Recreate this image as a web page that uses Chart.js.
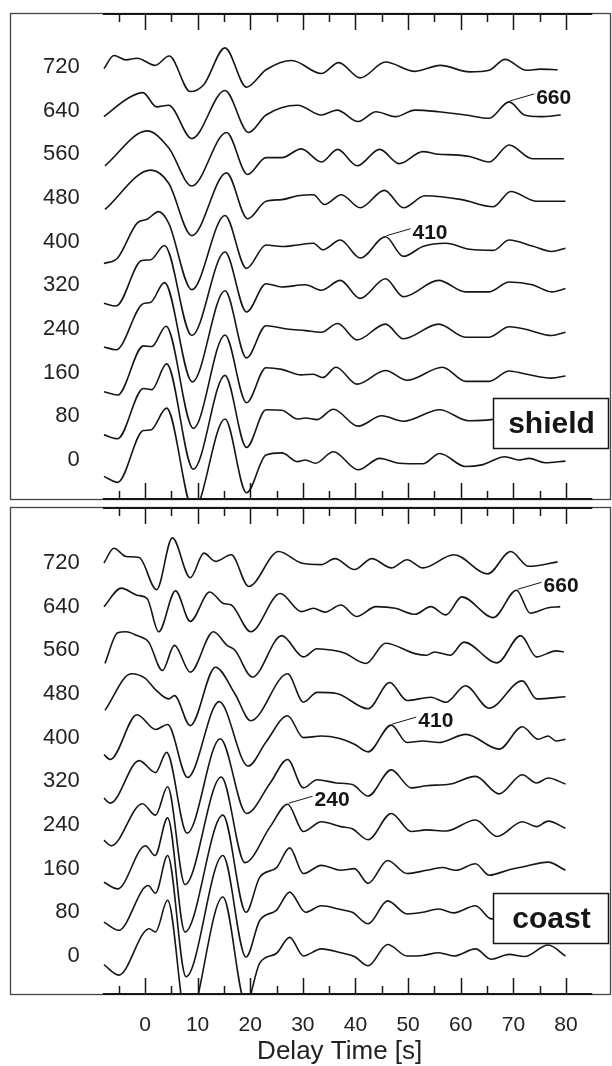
<!DOCTYPE html>
<html>
<head>
<meta charset="utf-8">
<script src="https://cdn.jsdelivr.net/npm/chart.js@4.4.1/dist/chart.umd.min.js"></script>
<style>
  html, body { margin: 0; padding: 0; background: #fff; }
  #wrap { position: relative; width: 612px; height: 1066px; }
  .box { position: absolute; left: 0; width: 612px; }
  #p1 { top: 0; height: 504px; }
  #p2 { top: 504px; height: 562px; }
</style>
</head>
<body>
<div id="wrap">
  <div class="box" id="p1"><canvas id="shield"></canvas></div>
  <div class="box" id="p2"><canvas id="coast"></canvas></div>
</div>
<script>
// depth labels of the traces (bottom to top) and axis ticks
const depths = [0, 80, 160, 240, 320, 400, 480, 560, 640, 720];
const timeLabels = [0, 10, 20, 30, 40, 50, 60, 70, 80];
const tickTimes = [-5, 0, 5, 10, 15, 20, 25, 30, 35, 40, 45, 50, 55, 60, 65, 70, 75, 80];
const xTitle = 'Delay Time [s]';

// traces: [delay time (s), amplitude] at the turning points
const shield0 = [[-7.8,-30],[-5.2,-41],[-0.3,54],[1.1,55],[4.1,95],[9.2,-92],[15.2,75],[19.3,-60],[23.0,9],[26.0,13],[29.0,-3],[30.5,0],[32.4,-6],[35.8,15],[40.5,-18],[44.6,3],[48.3,-6],[52.8,-7],[56.0,12],[60.9,-12],[64.0,-9],[68.4,6],[71.0,0],[73.0,3],[76.0,-5],[79.9,-2]];
const shield80 = [[-7.8,-34],[-5.2,-41],[-0.3,51],[1.3,49],[4.1,96],[9.2,-97],[15.2,75],[19.3,-57],[23.0,12],[26.0,11],[29.0,-5],[30.5,-3],[32.7,-6],[35.8,13],[40.5,-18],[45.0,1],[49.1,-9],[56.0,12],[61.5,-8],[65.8,-6],[70.0,8],[75.0,-3],[79.9,0]];
const shield160 = [[-7.8,-35],[-5.2,-41],[-0.3,49],[1.3,48],[4.0,85],[9.2,-102],[15.2,69],[19.3,-55],[23.0,9],[26.0,6],[29.7,-4],[32.0,-3],[33.8,-9],[36.3,10],[40.3,-21],[45.7,4],[49.8,-14],[56.5,10],[61.0,-16],[65.4,-16],[69.2,3],[72.1,-2],[77.3,-10],[79.9,-6]];
const shield240 = [[-7.8,-33],[-5.5,-38],[-0.4,46],[1.1,49],[3.7,85],[9.0,-97],[15.2,70],[19.3,-53],[23.0,6],[27.0,0],[30.5,-3],[33.5,-6],[36.6,10],[40.3,-20],[45.7,9],[49.1,-18],[55.8,9],[60.9,-15],[65.4,-15],[69.2,4],[72.1,0],[77.3,-12],[79.9,-6]];
const shield320 = [[-7.8,-33],[-5.5,-38],[-0.7,45],[1.1,47],[3.7,73],[8.9,-92],[15.2,61],[19.3,-49],[23.0,3],[26.0,-3],[30.5,1],[33.5,-9],[37.1,9],[40.9,-24],[45.7,12],[49.1,-21],[55.8,9],[60.9,-12],[65.4,-12],[69.2,6],[73.6,1],[77.3,-12],[79.9,-6]];
const shield400 = [[-7.8,-40],[-5.2,-30],[-1.5,34],[0.4,41],[2.6,55],[4.5,34],[8.9,-88],[15.2,48],[19.3,-49],[23.0,-6],[26.0,-9],[29.0,-6],[32.0,-3],[33.8,-15],[37.1,3],[40.9,-30],[45.7,9],[49.1,-27],[52.8,-9],[57.2,-3],[61.7,-14],[66.2,-16],[69.2,3],[73.6,-8],[77.3,-18],[79.9,-12]];
const shield480 = [[-7.6,-21],[1.1,51],[4.5,27],[8.9,-69],[15.5,46],[19.5,-38],[23.0,-6],[26.0,-3],[29.0,4],[32.0,6],[34.1,-12],[37.3,6],[40.9,-18],[45.5,14],[49.1,-18],[53.2,4],[60.2,-3],[66.2,-16],[69.5,12],[74.4,-6],[79.9,-6]];
const shield560 = [[-7.6,-21],[0.4,43],[4.5,12],[8.9,-58],[15.5,40],[19.5,-37],[23.0,-6],[26.0,-6],[29.7,10],[33.5,-14],[36.6,9],[40.3,-21],[44.6,9],[48.3,-17],[52.8,5],[55.8,0],[58.7,-1],[61.7,-4],[65.4,-14],[69.2,17],[73.6,-8],[79.6,-8]];
const shield640 = [[-7.8,-11],[-3.0,24],[-0.4,33],[2.2,7],[4.5,10],[8.9,-51],[15.2,37],[19.7,-40],[23.0,-8],[29.0,10],[33.5,-8],[36.5,1],[40.5,-20],[43.9,-2],[47.6,-11],[51.3,1],[55.8,-2],[61.0,-8],[65.4,-14],[69.2,16],[72.1,-8],[75.1,-11],[79.0,-8]];
const shield720 = [[-7.8,-3],[-5.9,21],[-3.6,13],[-1.5,16],[1.9,3],[4.6,20],[8.6,-45],[11.2,-32],[15.2,35],[19.3,-37],[23.0,-5],[27.9,12],[33.5,-12],[36.8,8],[40.9,-20],[45.7,9],[51.3,-8],[56.1,3],[61.7,-9],[65.4,-6],[68.4,14],[72.5,-6],[75.1,-4],[78.4,-5]];

const coast0 = [[-7.8,-16],[-5.0,-35],[0.8,50],[2.0,44],[4.3,102],[8.0,-125],[14.8,108],[19.2,-88],[21.8,-13],[25.0,5],[27.5,34],[30.1,0],[33.5,13],[37.2,6],[39.8,-1],[42.4,-18],[46.1,21],[49.8,0],[52.8,1],[55.8,6],[58.7,0],[62.8,13],[65.8,-6],[69.2,3],[72.1,-1],[76.6,20],[79.9,0]];
const coast80 = [[-7.8,-18],[-5.0,-33],[0.6,49],[2.0,35],[4.3,104],[7.8,-118],[14.8,104],[19.2,-82],[21.8,-15],[25.0,4],[27.5,37],[30.5,0],[33.5,12],[37.2,5],[39.4,0],[42.4,-21],[46.1,21],[49.8,-3],[52.8,0],[55.8,6],[58.7,-1],[62.8,12],[65.8,-12],[70.0,5],[75.0,0],[79.9,0]];
const coast160 = [[-7.8,-25],[-5.2,-37],[0.1,42],[1.9,24],[4.3,93],[7.6,-116],[14.8,98],[19.2,-80],[21.8,-16],[25.0,2],[27.5,38],[30.1,-9],[33.5,6],[37.2,-3],[39.8,0],[42.4,-27],[46.1,15],[49.8,-9],[53.5,-3],[56.5,2],[59.1,-3],[62.8,9],[65.4,-12],[69.2,-2],[71.7,3],[76.6,12],[79.9,-3]];
const coast240 = [[-7.8,-28],[-6.4,-38],[-0.5,39],[2.0,18],[4.3,70],[7.6,-109],[14.5,88],[19.0,-69],[23.8,-3],[27.1,38],[30.1,-12],[33.5,6],[37.2,-3],[39.4,-7],[42.4,-27],[46.8,21],[50.6,-12],[53.5,-9],[57.2,-11],[62.8,9],[66.9,-21],[71.7,6],[74.4,-3],[76.6,7],[79.9,-6]];
const coast320 = [[-7.8,-31],[-6.6,-40],[-1.1,38],[2.0,16],[4.1,53],[8.0,-95],[14.3,78],[19.3,-59],[23.8,-3],[27.1,40],[30.1,-12],[32.7,3],[36.4,-3],[39.4,-6],[42.4,-27],[46.8,21],[50.6,-12],[53.5,-8],[58.0,-5],[62.8,9],[67.3,-23],[71.7,12],[74.4,-3],[76.6,6],[79.9,-5]];
const coast400 = [[-7.8,-31],[-6.6,-40],[-1.5,42],[2.0,15],[4.3,24],[8.1,-73],[14.1,66],[19.6,-52],[23.0,-8],[27.1,40],[30.1,0],[33.5,3],[36.8,-1],[39.8,-12],[42.4,-26],[46.8,23],[49.8,-9],[52.8,-6],[55.8,-9],[61.0,6],[67.3,-21],[71.7,20],[74.7,-3],[76.6,3],[78.1,-6],[79.9,-3]];
const coast480 = [[-7.6,-30],[-2.6,37],[0.0,29],[1.9,9],[4.5,-9],[5.6,-3],[8.6,-58],[13.4,49],[17.1,0],[20.1,-49],[27.1,37],[30.1,-15],[32.7,3],[36.4,1],[42.4,-27],[46.5,21],[49.8,-12],[54.3,-6],[57.2,-15],[60.9,15],[65.4,-26],[71.7,24],[74.4,-9],[79.9,-5]];
const coast560 = [[-7.6,-24],[-5.2,32],[-3.6,34],[-1.5,27],[0.7,15],[3.3,-37],[5.6,9],[8.6,-40],[13.0,34],[15.6,9],[17.1,0],[20.4,-49],[26.0,27],[30.1,-12],[32.7,3],[35.7,0],[37.9,-5],[42.0,-24],[45.7,13],[51.3,-6],[53.5,-9],[55.0,-3],[58.0,-9],[60.6,15],[66.9,-23],[71.4,27],[74.4,-12],[78.1,-1],[79.6,-3]];
const coast640 = [[-7.8,0],[-4.5,34],[-1.5,21],[0.4,15],[2.6,-46],[5.8,29],[8.6,-27],[12.3,27],[14.9,6],[16.4,3],[20.1,-46],[25.7,24],[29.7,-9],[32.0,-3],[34.2,-10],[37.2,3],[40.2,-18],[43.9,0],[47.6,-3],[51.3,-14],[54.3,0],[57.2,-15],[60.2,18],[66.2,-20],[70.6,30],[73.2,-12],[76.6,-2],[78.9,0]];
const coast720 = [[-7.8,0],[-5.9,27],[-3.6,12],[-1.1,10],[2.2,-49],[5.2,46],[8.6,-27],[11.2,18],[13.4,3],[16.4,15],[19.7,-43],[25.4,21],[29.7,0],[33.5,-3],[36.1,8],[39.8,-12],[43.1,8],[46.8,-9],[49.8,6],[52.8,-9],[58.7,15],[65.1,-20],[69.5,21],[72.9,-6],[78.4,2]];

const shieldTraces = [shield0, shield80, shield160, shield240, shield320, shield400, shield480, shield560, shield640, shield720];
const coastTraces = [coast0, coast80, coast160, coast240, coast320, coast400, coast480, coast560, coast640, coast720];

// labelled conversions: [text, trace depth, delay time of the peak]
const shieldNotes = [['660', 640, 69.2], ['410', 400, 45.7]];
const coastNotes = [['660', 640, 70.6], ['410', 400, 46.8], ['240', 240, 27.1]];

const xMin = -25.65, xMax = 88.55;
const ink = '#161616';
const fontFamily = '"Liberation Sans", Arial, Helvetica, sans-serif';

Chart.defaults.font.family = fontFamily;
Chart.defaults.color = '#222';

// frame, inward ticks, region tag, labelled peaks and the time axis title
function framePlugin(tag, notes, traces, showX) {
  return {
    id: 'frame',
    afterDatasetsDraw(chart) {
      const { ctx, chartArea: a, scales: { x, y } } = chart;
      ctx.save();
      ctx.strokeStyle = '#444';
      ctx.lineWidth = 1.3;
      ctx.strokeRect(a.left + 0.5, a.top + 0.5, a.right - a.left - 1, a.bottom - a.top - 1);

      ctx.strokeStyle = ink;
      ctx.lineWidth = 2;
      const s0 = x.getPixelForValue(-8), s1 = x.getPixelForValue(85);
      ctx.beginPath();
      ctx.moveTo(s0, a.top + 1); ctx.lineTo(s1, a.top + 1);
      ctx.moveTo(s0, a.bottom - 1); ctx.lineTo(s1, a.bottom - 1);
      ctx.stroke();

      ctx.lineWidth = 1.5;
      ctx.beginPath();
      tickTimes.forEach(t => {
        const px = Math.round(x.getPixelForValue(t)) + 0.5;
        const len = t % 10 === 0 ? 17 : 9;
        ctx.moveTo(px, a.top); ctx.lineTo(px, a.top + len);
        ctx.moveTo(px, a.bottom); ctx.lineTo(px, a.bottom - len);
      });
      ctx.stroke();

      // region tag box
      const bw = 115, bh = 50;
      const bx = a.right - 3 - bw, by = a.bottom - 52 - bh;
      ctx.fillStyle = '#fff';
      ctx.fillRect(bx, by, bw, bh);
      ctx.strokeStyle = ink;
      ctx.lineWidth = 1.5;
      ctx.strokeRect(bx + 0.5, by + 0.5, bw, bh);
      ctx.fillStyle = ink;
      ctx.font = 'bold 30px ' + fontFamily;
      ctx.textAlign = 'center';
      ctx.textBaseline = 'middle';
      ctx.fillText(tag, bx + bw / 2 + 1, by + bh / 2 + 2);

      // peak labels with leader lines
      ctx.font = 'bold 21px ' + fontFamily;
      ctx.textAlign = 'left';
      ctx.lineWidth = 1;
      notes.forEach(([text, depth, t]) => {
        const tr = traces[depths.indexOf(depth)];
        const pt = tr.find(p => p[0] === t);
        const px = x.getPixelForValue(t);
        const py = y.getPixelForValue(depth + pt[1]);
        ctx.beginPath();
        ctx.moveTo(px + 1, py - 1);
        ctx.lineTo(px + 25, py - 8);
        ctx.stroke();
        ctx.fillText(text, px + 27, py - 4);
      });

      if (showX) {
        ctx.fillStyle = '#222';
        ctx.font = '26px ' + fontFamily;
        ctx.textAlign = 'center';
        ctx.fillText(xTitle, x.getPixelForValue(37), chart.height - 14);
      }
      ctx.restore();
    }
  };
}

function panel(id, traces, notes, tag, yMin, yMax, showX) {
  return new Chart(document.getElementById(id), {
    type: 'line',
    data: {
      datasets: traces.map((tr, i) => ({
        data: tr.map(p => ({ x: p[0], y: depths[i] + p[1] })),
        borderColor: ink,
        borderWidth: 1.6,
        pointRadius: 0,
        fill: false,
        tension: 0.4,
        cubicInterpolationMode: 'monotone'
      }))
    },
    options: {
      responsive: true,
      maintainAspectRatio: false,
      animation: false,
      events: [],
      layout: { padding: showX ? { top: 3, left: 10, right: 1, bottom: 0 } : { top: 13, left: 10, right: 1, bottom: 4 } },
      plugins: { legend: { display: false }, tooltip: { enabled: false } },
      scales: {
        x: {
          type: 'linear', min: xMin, max: xMax, display: showX,
          grid: { display: false, drawTicks: false },
          border: { display: false },
          afterBuildTicks: s => { s.ticks = timeLabels.map(v => ({ value: v })); },
          afterFit: s => { s.height = showX ? 71 : 0; s.paddingLeft = 0; s.paddingRight = 0; },
          ticks: { padding: 18, color: '#222', font: { size: 21 } }
        },
        y: {
          type: 'linear', min: yMin, max: yMax,
          grid: { display: false, drawTicks: false },
          border: { display: false },
          afterBuildTicks: s => { s.ticks = depths.map(v => ({ value: v })); },
          afterFit: s => { s.width = 0; s.paddingTop = 0; s.paddingBottom = 0; },
          ticks: { mirror: true, crossAlign: 'far', padding: 33, color: '#222', font: { size: 22 } }
        }
      }
    },
    plugins: [framePlugin(tag, notes, traces, showX)]
  });
}

panel('shield', shieldTraces, shieldNotes, 'shield', -73.3, 818.9, false);
panel('coast', coastTraces, coastNotes, 'coast', -71.5, 822.6, true);
</script>
</body>
</html>
